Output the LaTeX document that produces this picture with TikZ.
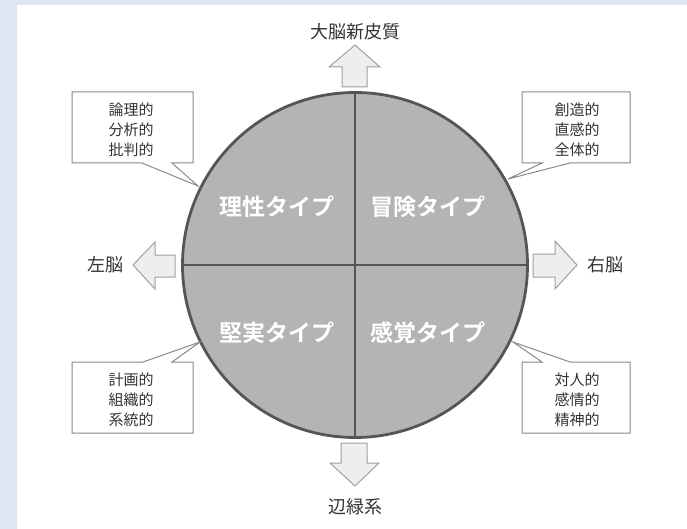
\documentclass[tikz,border=0pt]{standalone}
\usepackage{fontspec}
\newfontfamily\jp{Noto Sans CJK JP}[BoldFont={Noto Sans CJK JP Bold}]
\definecolor{bgblue}{HTML}{DEE8F4}
\definecolor{circfill}{HTML}{B4B4B4}
\definecolor{circline}{HTML}{555555}
\definecolor{arrfill}{HTML}{EEEEEE}
\definecolor{arrline}{HTML}{A0A0A0}
\definecolor{boxline}{HTML}{8A8A8A}
\definecolor{txt}{HTML}{333333}
\tikzset{
  blockarrow/.style={fill=arrfill,draw=arrline,line width=1pt,line join=miter},
  calloutbox/.style={fill=white,draw=boxline,line width=1pt,line join=miter},
  lbl/.style={font=\jp\fontsize{18pt}{20pt}\selectfont,text=txt,inner sep=0pt},
  cotext/.style={font=\jp\fontsize{15pt}{20pt}\selectfont,text=txt,align=center,inner sep=0pt},
  typ/.style={font=\jp\bfseries\fontsize{23pt}{26pt}\selectfont,text=white,inner sep=0pt},
  divider/.style={draw=circline,line width=2pt}
}
\begin{document}
\begin{tikzpicture}[x=1pt,y=-1pt]
\useasboundingbox (0,0) rectangle (687,529);
\fill[bgblue] (0,0) rectangle (687,529);
\fill[white] (17,5) rectangle (687,529);

% circle
\node[circle,minimum size=345pt,inner sep=0pt,fill=circfill,draw=circline,line width=2.8pt] (c) at (355,265) {};
\draw[divider] (c.north) -- (c.south);
\draw[divider] (c.west) -- (c.east);

% type labels
\node[typ] (q1) at (277,207) {理性タイプ};
\node[typ] (q2) at (428,207) {冒険タイプ};
\node[typ] (q3) at (277,333) {堅実タイプ};
\node[typ] (q4) at (428,333) {感覚タイプ};

% block arrows
\draw[blockarrow] (342,87) -- (342,67) -- (329,67) -- (355,45) -- (380,67) -- (367,67) -- (367,87) -- cycle;
\draw[blockarrow] (341,443) -- (367,443) -- (367,463) -- (379,463) -- (355,486) -- (330,463) -- (341,463) -- cycle;
\draw[blockarrow] (175,255) -- (155,255) -- (155,242) -- (133,265) -- (155,289) -- (155,277) -- (175,277) -- cycle;
\draw[blockarrow] (533,254) -- (555,254) -- (555,241) -- (577,265) -- (555,289) -- (555,277) -- (533,277) -- cycle;

% arrow labels
\node[lbl] (top) at (355,32) {大脳新皮質};
\node[lbl] (bottom) at (355,507) {辺緑系};
\node[lbl] (left) at (105,265) {左脳};
\node[lbl] (right) at (605,265) {右脳};

% callouts
\draw[calloutbox] (72,92) -- (193,92) -- (193,163) -- (172,163) -- (198,186) -- (142,163) -- (72,163) -- cycle;
\draw[calloutbox] (522,92) -- (630,92) -- (630,163) -- (570,163) -- (508,179) -- (542,163) -- (522,163) -- cycle;
\draw[calloutbox] (72,362) -- (143,362) -- (200,342) -- (172,362) -- (193,362) -- (193,433) -- (72,433) -- cycle;
\draw[calloutbox] (522,362) -- (542,362) -- (513,342) -- (570,362) -- (630,362) -- (630,433) -- (522,433) -- cycle;

\node[cotext] (t1) at (131,130) {論理的\\分析的\\批判的};
\node[cotext] (t2) at (577,130) {創造的\\直感的\\全体的};
\node[cotext] (t3) at (131,400) {計画的\\組織的\\系統的};
\node[cotext] (t4) at (577,400) {対人的\\感情的\\精神的};
\end{tikzpicture}
\end{document}
